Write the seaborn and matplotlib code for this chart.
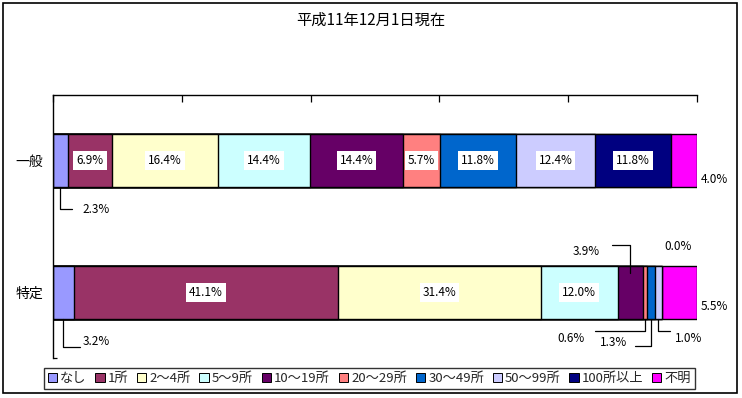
import matplotlib
matplotlib.use("Agg")
import matplotlib.pyplot as plt
from matplotlib.patches import Patch, Rectangle
import numpy as np
import pandas as pd
import seaborn as sns

GROUPS = ["一般", "特定"]
LEVELS = ["なし", "1所", "2～4所", "5～9所", "10～19所", "20～29所",
          "30～49所", "50～99所", "100所以上", "不明"]
IPPAN = [2.3, 6.9, 16.4, 14.4, 14.4, 5.7, 11.8, 12.4, 11.8, 4.0]
TOKUTEI = [3.2, 41.1, 31.4, 12.0, 3.9, 0.6, 1.3, 1.0, 0.0, 5.5]
COLORS = ["#9999FF", "#993366", "#FFFFCC", "#CCFFFF", "#660066",
          "#FF8080", "#0066CC", "#CCCCFF", "#000080", "#FF00FF"]
TITLE = "平成11年12月1日現在"

# labels placed outside the bar: (group, level) -> anchor edge, leader end offset, text offset, ha
OUTSIDE = {
    (0, 0): ("bottom", (12, -22), (22, -22), "left"),
    (0, 9): ("mid", None, (30, -19), "center"),
    (1, 0): ("bottom", (17, -28), (19, -23), "left"),
    (1, 4): ("top_in", (-18, 28), (-31, 21), "right"),
    (1, 5): ("bottom", (-50, -12), (-60, -20), "right"),
    (1, 6): ("bottom", (-16, -27), (-24, -24), "right"),
    (1, 7): ("bottom", (12, -12), (17, -20), "left"),
    (1, 8): ("top", None, (16, 19), "center"),
    (1, 9): ("mid", None, (35, -14), "center"),
}
BAR_W = 0.4
NUM_SIZE = 8.5


def build_frame():
    rows = []
    for gi, vals in enumerate([IPPAN, TOKUTEI]):
        vals = np.array(vals)
        cum = np.cumsum(vals) / vals.sum() * 100
        start = np.concatenate([[0], cum[:-1]])
        for li, lev in enumerate(LEVELS):
            rows.append(dict(group=GROUPS[gi], gi=gi, level=lev, li=li,
                             value=vals[li], start=start[li], cum=cum[li]))
    return pd.DataFrame(rows)


def main():
    df = build_frame()
    sns.set_theme(style="white")
    plt.rcParams["font.family"] = ["Noto Sans CJK JP", "DejaVu Sans"]

    fig = plt.figure(figsize=(7.42, 3.98), dpi=100)
    ax = fig.add_axes([53 / 742, 1 - 358 / 398, 644 / 742, 263 / 398])

    sns.barplot(data=df, x="cum", y="group", hue="level",
                hue_order=LEVELS[::-1], order=GROUPS,
                palette=dict(zip(LEVELS, COLORS)), dodge=False,
                width=BAR_W, saturation=1, edgecolor="black",
                linewidth=1.0, legend=False, ax=ax)

    ax.set_xlim(0, 100)
    ax.set_ylim(1.5, -0.5)
    ax.set_xlabel("")
    ax.set_ylabel("")

    for side in ["right", "bottom"]:
        ax.spines[side].set_visible(False)
    for side in ["top", "left"]:
        ax.spines[side].set_color("black")
        ax.spines[side].set_linewidth(1.0)

    ax.xaxis.tick_top()
    ax.set_xticks(np.arange(0, 101, 20))
    ax.set_xticklabels([])
    ax.tick_params(axis="x", which="major", direction="in", length=5,
                   width=0.9, color="black", top=True, bottom=False)
    ax.tick_params(axis="y", which="major", length=0, pad=7, labelsize=10,
                   labelcolor="black")
    ax.set_yticks([0, 1])
    ax.set_yticklabels(GROUPS)
    ax.set_yticks([1.5], minor=True)
    ax.tick_params(axis="y", which="minor", direction="in", length=3,
                   width=0.9, color="black", left=True)

    for _, r in df.iterrows():
        xc = (r["start"] + r["cum"]) / 2
        yc = r["gi"]
        txt = f"{r['value']:.1f}%"
        spec = OUTSIDE.get((r["gi"], r["li"]))
        if spec is None:
            ax.text(xc, yc, txt, ha="center", va="center", fontsize=NUM_SIZE,
                    color="black",
                    bbox=dict(boxstyle="square,pad=0.25", fc="white", ec="none"))
            continue
        edge, lead, toff, ha = spec
        ey = {"bottom": yc + BAR_W / 2, "top": yc - BAR_W / 2,
              "top_in": yc - BAR_W / 2 + 0.05, "mid": yc}[edge]
        if lead is not None:
            ax.annotate("", xy=(xc, ey), xytext=lead, textcoords="offset pixels",
                        arrowprops=dict(arrowstyle="-", color="black", lw=0.9,
                                        shrinkA=0, shrinkB=0,
                                        connectionstyle="angle,angleA=0,angleB=90,rad=0"))
        ax.annotate(txt, xy=(xc, ey), xytext=toff, textcoords="offset pixels",
                    ha=ha, va="center", fontsize=NUM_SIZE,
                    color="black", annotation_clip=False)

    fig.text(0.5, 1 - 20 / 398, TITLE, ha="center", va="center",
             fontsize=11, color="black")

    handles = [Patch(facecolor=c, edgecolor="black", linewidth=0.7, label=l)
               for c, l in zip(COLORS, LEVELS)]
    leg = fig.legend(handles=handles, loc="center",
                     bbox_to_anchor=(369.5 / 742, 1 - 378.5 / 398), ncol=10,
                     fontsize=9.5, frameon=True, fancybox=False,
                     handlelength=0.7, handleheight=0.7, handletextpad=0.25,
                     columnspacing=0.65, borderpad=0.3, borderaxespad=0)
    leg.get_frame().set_edgecolor("black")
    leg.get_frame().set_linewidth(1.0)

    fig.add_artist(Rectangle((3 / 742, 1 - 393 / 398), 734 / 742, 390 / 398,
                             transform=fig.transFigure, fill=False,
                             ec="black", lw=1.2))

    fig.savefig("out.png", dpi=100)


if __name__ == "__main__":
    main()
